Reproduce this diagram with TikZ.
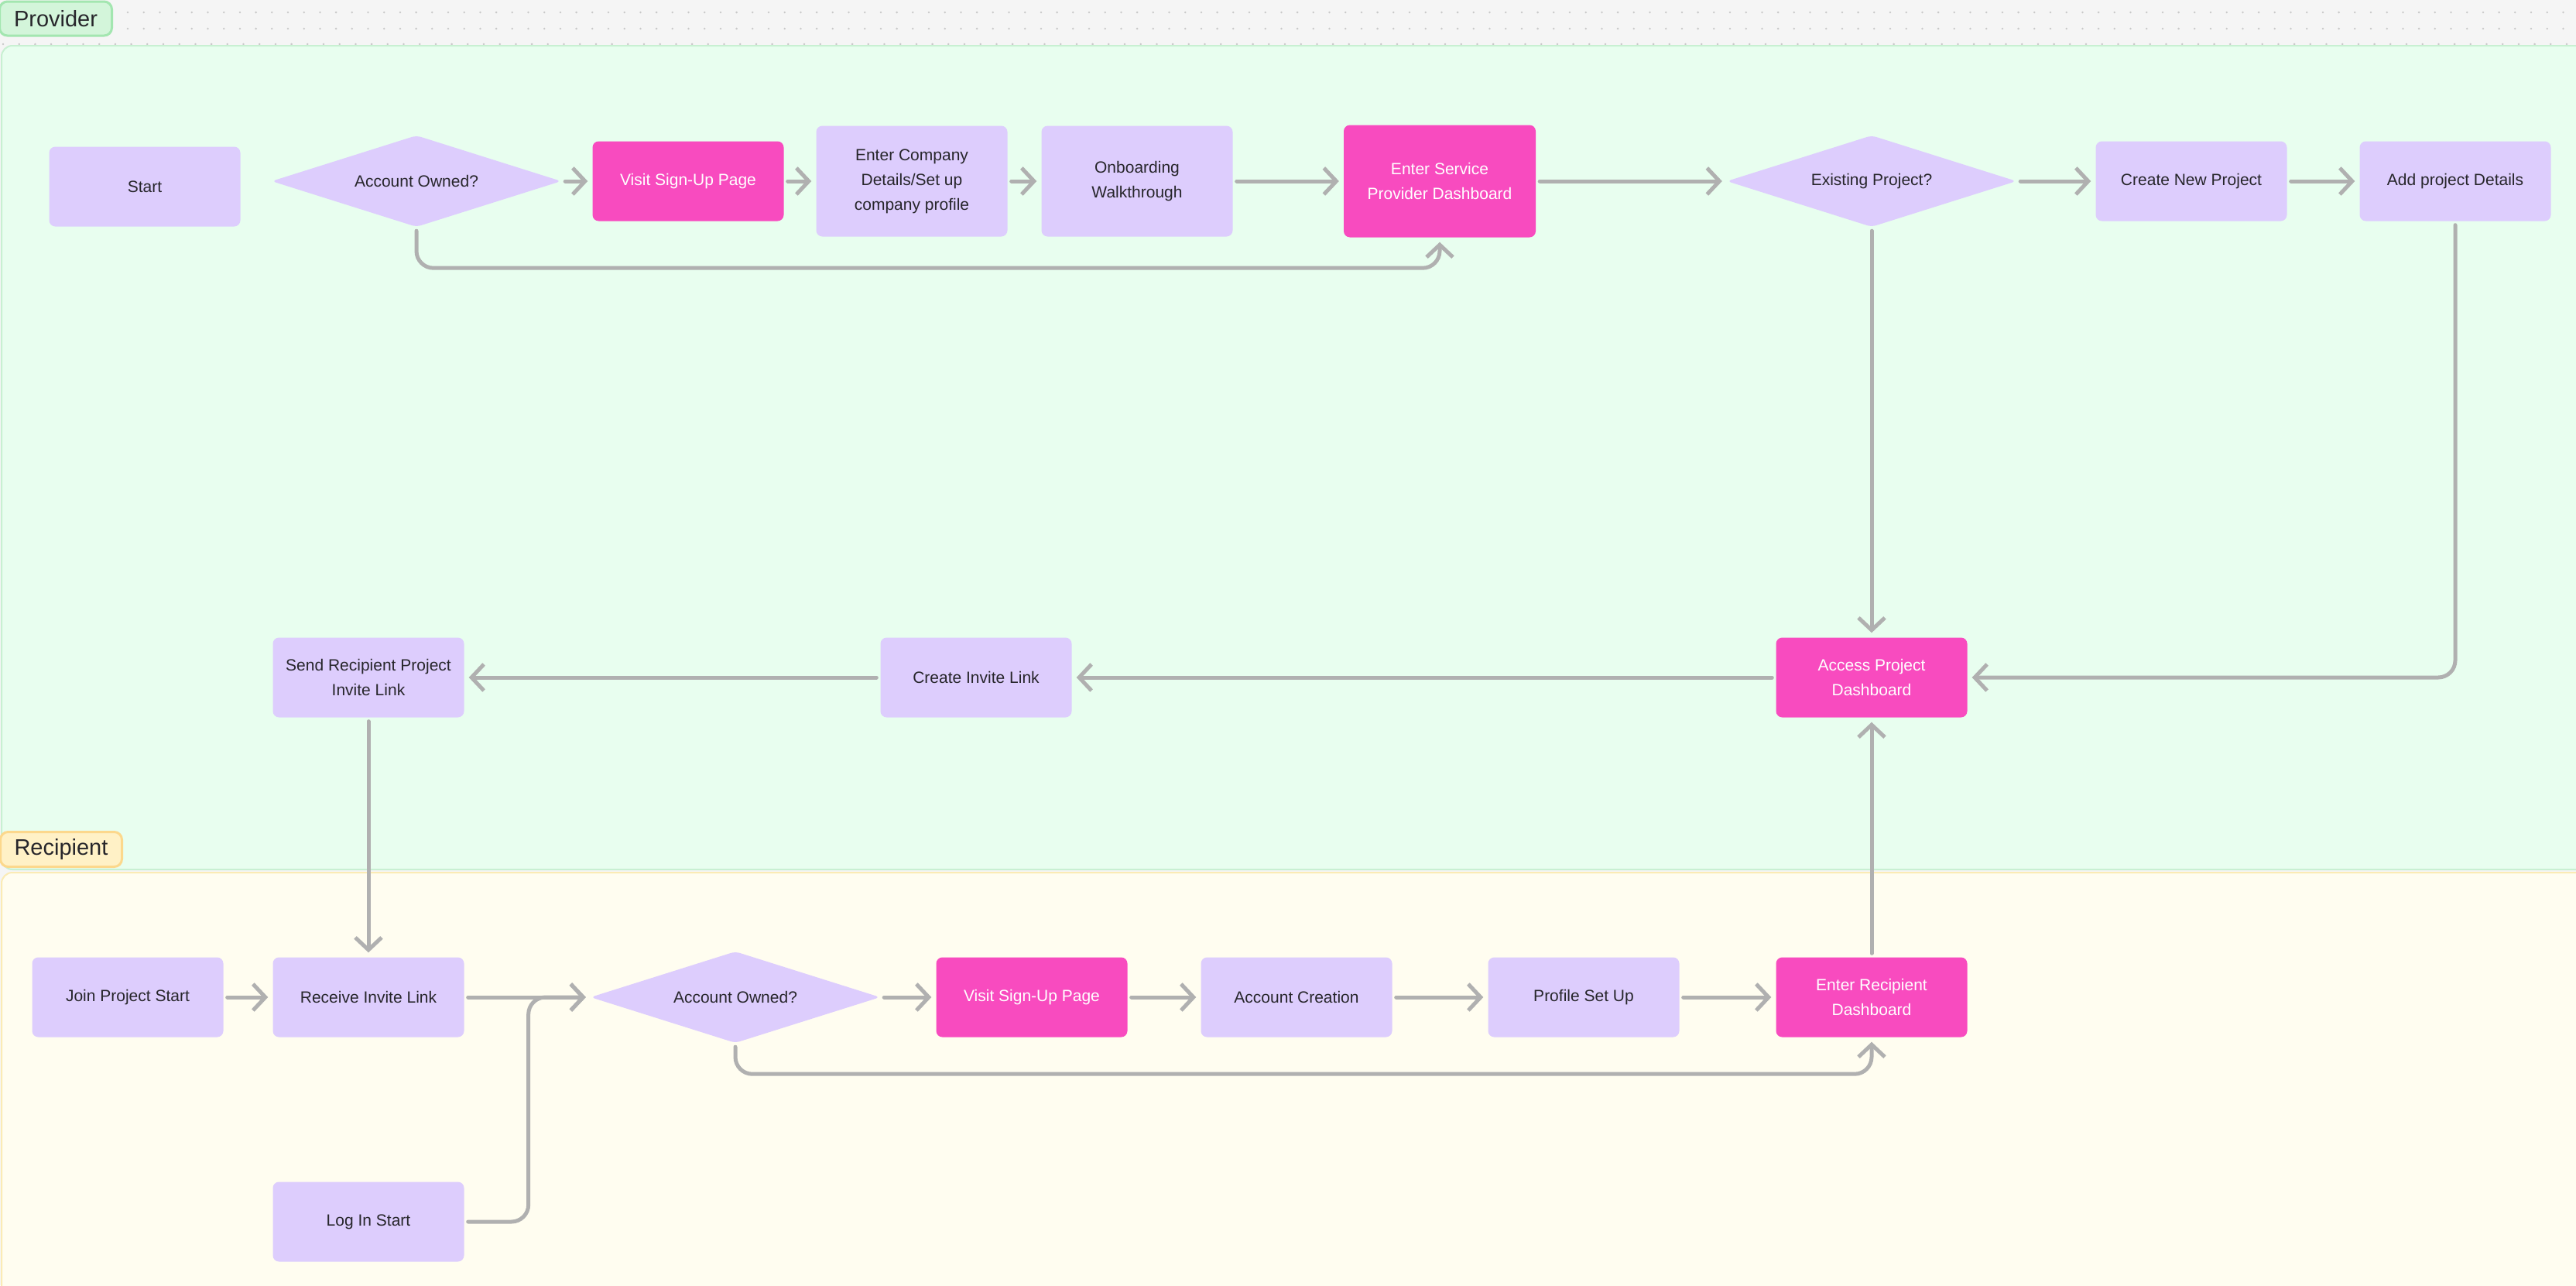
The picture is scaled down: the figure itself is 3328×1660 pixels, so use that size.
\documentclass[tikz,border=0pt]{standalone}
\usepackage{fontspec}
\setmainfont{Liberation Sans}
\usetikzlibrary{arrows.meta,shapes.geometric,calc}
\definecolor{lav}{HTML}{DDCDFD}
\definecolor{pnk}{HTML}{F84BBF}
\definecolor{ink}{HTML}{27262B}
\definecolor{conncol}{HTML}{B0B0B0}
\definecolor{bggray}{HTML}{F5F5F5}
\definecolor{dotcol}{HTML}{C9C9C9}
\definecolor{greenlane}{HTML}{E8FEEF}
\definecolor{greenedge}{HTML}{C8F0D2}
\definecolor{yellane}{HTML}{FFFDF0}
\definecolor{yeledge}{HTML}{FBEBB5}
\definecolor{greenlab}{HTML}{D3F5DA}
\definecolor{greenlabedge}{HTML}{A3E6B0}
\definecolor{yellab}{HTML}{FFF1C6}
\definecolor{yellabedge}{HTML}{FCD88C}
\newcommand\nodefont{\fontsize{21}{32}\selectfont}
\newcommand\lanefont{\fontsize{29}{34}\selectfont}
\begin{document}
\begin{tikzpicture}[x=1pt,y=-1pt,
 box/.style={rectangle,rounded corners=8pt,fill=lav,text=ink,minimum width=247pt,minimum height=103pt,inner sep=0pt,align=center,font=\nodefont},
 tallbox/.style={box,minimum height=143pt},
 pinkbox/.style={box,fill=pnk,text=white},
 decision/.style={diamond,aspect=3.2,fill=lav,text=ink,minimum width=374pt,minimum height=118pt,inner sep=0pt,align=center,font=\nodefont,rounded corners=6pt},
 conn/.style={draw=conncol,line width=5pt,line cap=round,line join=round,rounded corners=22pt,-{Straight Barb[length=16pt,width=34pt]},shorten >=6pt,shorten <=5pt},
 lanelabel/.style={rectangle,rounded corners=10pt,line width=3pt,font=\lanefont,text=ink,inner sep=0pt}
]
\useasboundingbox (0,0) rectangle (3328,1660);
\fill[bggray] (0,0) rectangle (3328,1660);
\foreach \i in {0,...,153} {
  \fill[dotcol] (165+20.7*\i,16) circle (1.4pt);
  \fill[dotcol] (165+20.7*\i,37) circle (1.4pt);
}
\foreach \i in {0,...,161} {
  \fill[dotcol] (4+20.7*\i,57) circle (1.4pt);
}
% lanes
\draw[draw=greenedge,fill=greenlane,line width=2pt,rounded corners=14pt] (2,59) rectangle (3370,1123);
\draw[draw=yeledge,fill=yellane,line width=2pt,rounded corners=14pt] (2,1127) rectangle (3370,1720);
% lane labels
\node[lanelabel,draw=greenlabedge,fill=greenlab,minimum width=145pt,minimum height=44pt] (provlabel) at (72,24) {Provider};
\node[lanelabel,draw=yellabedge,fill=yellab,minimum width=157pt,minimum height=45pt] (reclabel) at (79,1097) {Recipient};
% provider nodes
\node[box] (p_start) at (187,241) {Start};
\node[decision] (p_acc) at (538,234) {Account Owned?};
\node[pinkbox] (p_visit) at (889,234) {Visit Sign-Up Page};
\node[tallbox] (p_company) at (1178,234) {Enter Company\\Details/Set up\\company profile};
\node[tallbox] (p_onb) at (1469,234) {Onboarding\\Walkthrough};
\node[pinkbox,minimum width=248pt,minimum height=145pt] (p_dash) at (1860,234) {Enter Service\\Provider Dashboard};
\node[decision] (p_exist) at (2418,234) {Existing Project?};
\node[box] (p_create) at (2831,234) {Create New Project};
\node[box] (p_add) at (3172,234) {Add project Details};
\node[pinkbox] (p_access) at (2418,875) {Access Project\\Dashboard};
\node[box] (p_invite) at (1261,875) {Create Invite Link};
\node[box] (p_send) at (476,875) {Send Recipient Project\\Invite Link};
% recipient nodes
\node[box] (r_join) at (165,1288) {Join Project Start};
\node[box] (r_recv) at (476,1288) {Receive Invite Link};
\node[box] (r_login) at (476,1578) {Log In Start};
\node[decision] (r_acc) at (950,1288) {Account Owned?};
\node[pinkbox] (r_visit) at (1333,1288) {Visit Sign-Up Page};
\node[box] (r_create) at (1675,1288) {Account Creation};
\node[box] (r_profile) at (2046,1288) {Profile Set Up};
\node[pinkbox] (r_dash) at (2418,1288) {Enter Recipient\\Dashboard};
% provider connectors
\draw[conn] (p_acc.east) -- (p_visit.west);
\draw[conn] (p_visit.east) -- (p_company.west);
\draw[conn] (p_company.east) -- (p_onb.west);
\draw[conn] (p_onb.east) -- (p_dash.west);
\draw[conn] (p_acc.south) -- ++(0,53) -| (p_dash.south);
\draw[conn] (p_dash.east) -- (p_exist.west);
\draw[conn] (p_exist.east) -- (p_create.west);
\draw[conn] (p_create.east) -- (p_add.west);
\draw[conn] (p_exist.south) -- (p_access.north);
\draw[conn] (p_add.south) |- (p_access.east);
\draw[conn] (p_access.west) -- (p_invite.east);
\draw[conn] (p_invite.west) -- (p_send.east);
\draw[conn] (p_send.south) -- (r_recv.north);
% recipient connectors
\draw[conn] (r_join.east) -- (r_recv.west);
\draw[conn] (r_recv.east) -- (r_acc.west);
\draw[conn] (r_login.east) -- ++(83,0) |- (r_acc.west);
\draw[conn] (r_acc.east) -- (r_visit.west);
\draw[conn] (r_visit.east) -- (r_create.west);
\draw[conn] (r_create.east) -- (r_profile.west);
\draw[conn] (r_profile.east) -- (r_dash.west);
\draw[conn] (r_acc.south) -- ++(0,40) -| (r_dash.south);
\draw[conn] (r_dash.north) -- (p_access.south);
\end{tikzpicture}
\end{document}
